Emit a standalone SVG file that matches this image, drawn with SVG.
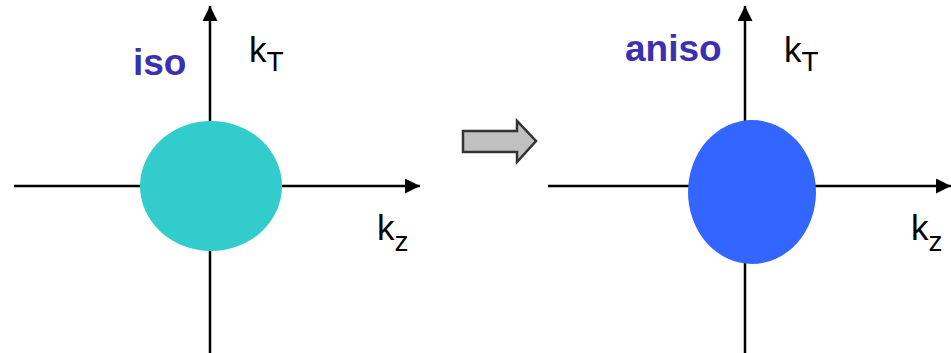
<svg xmlns="http://www.w3.org/2000/svg" width="951" height="353" viewBox="0 0 951 353">
<style>
.ax{stroke:#000;stroke-width:2.5;fill:none}
.lbl{font-family:"Liberation Sans",Arial,sans-serif;font-weight:bold;fill:#3A30B0;font-size:37px}
.k{font-family:"Liberation Sans",Arial,sans-serif;fill:#000;font-size:35px}
.sub{font-size:28px}
</style>
<defs>
<marker id="ah" viewBox="0 0 10 10" refX="10" refY="5" markerWidth="6" markerHeight="6" markerUnits="strokeWidth" orient="auto">
<path d="M0,0 L10,5 L0,10 Z" fill="#000"/>
</marker>
</defs>
<g id="connectors">
<line class="ax" x1="210" y1="353" x2="210" y2="6" marker-end="url(#ah)"/>
<line class="ax" x1="14" y1="186" x2="420" y2="186" marker-end="url(#ah)"/>
<line class="ax" x1="745" y1="353" x2="745" y2="6" marker-end="url(#ah)"/>
<line class="ax" x1="548" y1="186" x2="951" y2="186" marker-end="url(#ah)"/>
</g>
<g id="iso-disk"><ellipse cx="211" cy="186" rx="71" ry="65" fill="#33CCCC"/></g>
<g id="aniso-disk"><ellipse cx="752" cy="192" rx="64" ry="72" fill="#3366FF"/></g>
<g id="transition-arrow"><path d="M463,131 L517,131 L517,121 L536,141 L517,162 L517,152 L463,152 Z" fill="#C0C0C0" stroke="#333" stroke-width="2.5" stroke-linejoin="miter"/></g>
<g id="iso-label"><text class="lbl" x="133" y="75">iso</text></g>
<g id="aniso-label"><text class="lbl" x="625" y="61">aniso</text></g>
<g id="left-kT"><text class="k" x="249" y="62">k<tspan class="sub" dy="9">T</tspan></text></g>
<g id="left-kz"><text class="k" x="377" y="240">k<tspan class="sub" dy="11">z</tspan></text></g>
<g id="right-kT"><text class="k" x="784" y="62">k<tspan class="sub" dy="9">T</tspan></text></g>
<g id="right-kz"><text class="k" x="911" y="240">k<tspan class="sub" dy="11">z</tspan></text></g>
</svg>
